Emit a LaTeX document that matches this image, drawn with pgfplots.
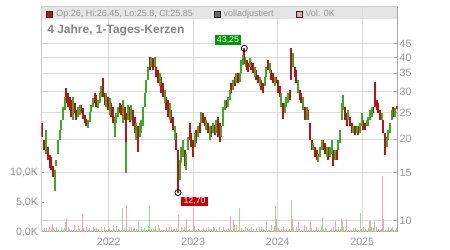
\documentclass[border=0pt]{standalone}
\usepackage{pgfplots}
\pgfplotsset{compat=1.18}
\usepackage{fontspec}
\setmainfont{Liberation Sans}
\definecolor{cred}{RGB}{185,20,20}
\definecolor{cgreen}{RGB}{60,170,35}
\definecolor{vpink}{RGB}{240,165,172}
\definecolor{vgreen}{RGB}{160,215,150}
\definecolor{gridgray}{RGB}{220,220,220}
\definecolor{framegray}{RGB}{205,205,205}
\definecolor{axisgray}{RGB}{165,165,165}
\definecolor{labelgray}{RGB}{150,150,150}
\definecolor{titlegray}{RGB}{135,135,135}
\definecolor{bandgray}{RGB}{229,229,229}
\definecolor{boxgreen}{RGB}{0,153,0}
\definecolor{boxred}{RGB}{204,0,0}
\pgfplotsset{
  chartgeom/.style={at={(30.975pt,13.5pt)}, anchor=south west,
    scale only axis, width=267.3pt, height=168.75pt,
    xmin=2021.2023, xmax=2025.4200},
}
\begin{document}
\begin{tikzpicture}
\path[use as bounding box, fill=white] (0,0) rectangle (337.5pt,187.5pt);
\fill[bandgray] (30.975pt,173.25pt) rectangle (298.275pt,182.25pt);
% ---------- grid / frame / price labels ----------
\begin{axis}[chartgeom,
  ymode=log, ymin=9.085, ymax=61.46,
  axis x line*=bottom, axis y line*=right,
  axis line style={draw=axisgray, line width=0.75pt},
  xtick={2022,2023,2024,2025}, xticklabels={2022,2023,2024,2025},
  ytick={10,15,20,25,30,35,40,45}, yticklabels={10,15,20,25,30,35,40,45},
  yminorticks=false, xminorticks=false,
  grid=major, major grid style={draw=gridgray, line width=0.75pt},
  xtick style={draw=none},
  ytick style={draw=axisgray, line width=0.75pt},
  tick align=inside, major tick length=3pt,
  tick label style={font=\fontsize{8}{9}\selectfont, text=labelgray, inner sep=0pt},
  xticklabel style={yshift=-4pt},
  yticklabel style={xshift=1.3pt},
  /pgf/number format/assume math mode=true,
]
\draw[framegray, line width=0.75pt] (rel axis cs:0,0) -- (rel axis cs:0,1) -- (rel axis cs:1,1);
\end{axis}
% ---------- volume ----------
\begin{axis}[chartgeom,
  ymin=0, ymax=37.69,
  axis x line=none, axis y line*=left,
  axis line style={draw=framegray, line width=0.75pt},
  ytick={0,5,10}, yticklabels={{0,0K},{5,0K},{10,0K}},
  ytick style={draw=axisgray, line width=0.75pt},
  tick align=inside, major tick length=2pt,
  tick label style={font=\fontsize{8}{9}\selectfont, text=labelgray, inner sep=0pt},
  yticklabel style={xshift=-2.25pt},
  /pgf/number format/assume math mode=true,
]
\addplot[ycomb, vpink, line width=0.6pt, mark=none] coordinates {
(2021.210,0.4)(2021.234,0.7)(2021.282,0.3)(2021.302,0.9)(2021.321,0.5)(2021.341,0.6)
(2021.498,0.2)(2021.518,0.8)(2021.538,0.5)(2021.557,0.3)(2021.598,1.1)(2021.617,0.4)
(2021.676,0.4)(2021.696,0.7)(2021.716,0.3)(2021.735,0.9)(2021.834,0.5)(2021.853,0.6)
(2021.933,0.2)(2021.953,0.8)(2021.992,0.5)(2022.031,0.3)(2022.051,1.1)(2022.130,0.4)
(2022.149,0.4)(2022.189,0.7)(2022.206,0.3)(2022.248,0.9)(2022.288,0.5)(2022.308,0.6)
(2022.347,0.2)(2022.485,0.8)(2022.524,0.5)(2022.563,0.3)(2022.583,1.1)(2022.623,0.4)
(2022.643,0.4)(2022.682,0.7)(2022.702,0.3)(2022.741,0.9)(2022.761,0.5)(2022.800,0.6)
(2022.820,0.2)(2022.899,0.8)(2022.958,0.5)(2022.978,0.3)(2022.998,1.1)(2023.037,0.4)
(2023.077,0.4)(2023.116,0.7)(2023.136,0.3)(2023.175,0.9)(2023.214,0.5)(2023.254,0.6)
(2023.293,0.2)(2023.314,0.8)(2023.392,0.5)(2023.451,0.3)(2023.491,1.1)(2023.530,0.4)
(2023.604,0.4)(2023.637,0.7)(2023.652,0.3)(2023.688,0.9)(2023.708,0.5)(2023.747,0.6)
(2023.767,0.2)(2023.806,0.8)(2023.826,0.5)(2023.885,0.3)(2023.924,1.1)(2023.944,0.4)
(2023.983,0.4)(2024.004,0.7)(2024.024,0.3)(2024.063,0.9)(2024.142,0.5)(2024.161,0.6)
(2024.201,0.2)(2024.220,0.8)(2024.260,0.5)(2024.279,0.3)(2024.319,1.1)(2024.362,0.4)
(2024.382,0.4)(2024.402,0.7)(2024.441,0.3)(2024.461,0.9)(2024.540,0.5)(2024.560,0.6)
(2024.599,0.2)(2024.658,0.8)(2024.698,0.5)(2024.796,0.3)(2024.817,1.1)(2024.856,0.4)
(2024.876,0.4)(2024.915,0.7)(2024.954,0.3)(2025.013,0.9)(2025.033,0.5)(2025.131,0.6)
(2025.151,0.2)(2025.172,0.8)(2025.190,0.5)(2025.211,0.3)(2025.250,1.1)(2025.270,0.4)
(2025.368,0.4)(2025.408,0.7)
(2021.329,1.3)(2021.503,2.1)(2021.688,3.0)(2022.205,4.5)(2022.824,2.9)(2022.923,2.1)
(2023.001,4.0)(2023.436,2.6)(2023.475,2.0)(2023.506,1.2)(2023.980,2.1)(2024.178,2.1)
(2024.244,1.7)(2024.384,1.9)(2024.678,1.8)(2024.759,2.1)(2024.816,2.2)(2025.101,1.8)
(2025.243,9.3)(2025.256,2.1)
};
\addplot[ycomb, vgreen, line width=0.6pt, mark=none] coordinates {
(2021.262,0.6)(2021.361,0.3)(2021.380,0.8)(2021.400,0.5)(2021.420,0.2)(2021.439,0.9)
(2021.459,0.4)(2021.479,0.7)(2021.578,0.3)(2021.637,1.0)(2021.657,0.5)(2021.755,0.4)
(2021.775,0.6)(2021.794,0.3)(2021.814,0.8)(2021.873,0.5)(2021.893,0.2)(2021.912,0.9)
(2021.972,0.4)(2022.012,0.7)(2022.071,0.3)(2022.090,1.0)(2022.110,0.5)(2022.169,0.4)
(2022.210,0.6)(2022.228,0.3)(2022.267,0.8)(2022.327,0.5)(2022.367,0.2)(2022.386,0.9)
(2022.406,0.4)(2022.426,0.7)(2022.445,0.3)(2022.465,1.0)(2022.504,0.5)(2022.544,0.4)
(2022.604,0.6)(2022.663,0.3)(2022.722,0.8)(2022.781,0.5)(2022.840,0.2)(2022.859,0.9)
(2022.879,0.4)(2022.918,0.7)(2022.938,0.3)(2023.018,1.0)(2023.057,0.5)(2023.096,0.4)
(2023.155,0.6)(2023.195,0.3)(2023.234,0.8)(2023.273,0.5)(2023.333,0.2)(2023.353,0.9)
(2023.373,0.4)(2023.412,0.7)(2023.432,0.3)(2023.471,1.0)(2023.510,0.5)(2023.550,0.4)
(2023.569,0.6)(2023.589,0.3)(2023.619,0.8)(2023.669,0.5)(2023.728,0.2)(2023.787,0.9)
(2023.846,0.4)(2023.865,0.7)(2023.905,0.3)(2023.964,1.0)(2024.043,0.5)(2024.083,0.4)
(2024.102,0.6)(2024.122,0.3)(2024.181,0.8)(2024.240,0.5)(2024.299,0.2)(2024.343,0.9)
(2024.421,0.4)(2024.480,0.7)(2024.500,0.3)(2024.521,1.0)(2024.580,0.5)(2024.619,0.4)
(2024.639,0.6)(2024.678,0.3)(2024.717,0.8)(2024.737,0.5)(2024.757,0.2)(2024.776,0.9)
(2024.835,0.4)(2024.895,0.7)(2024.935,0.3)(2024.974,1.0)(2024.994,0.5)(2025.053,0.4)
(2025.072,0.6)(2025.092,0.3)(2025.112,0.8)(2025.231,0.5)(2025.290,0.2)(2025.309,0.9)
(2025.329,0.4)(2025.349,0.7)(2025.388,0.3)
(2021.483,1.7)(2022.161,4.0)(2022.350,1.8)(2022.480,4.6)(2022.548,1.0)(2023.542,4.1)
(2023.861,1.8)(2023.968,4.3)(2024.157,5.3)(2024.523,2.4)(2024.769,1.9)(2024.976,3.2)
(2025.084,1.8)(2025.140,1.8)(2025.356,0.9)
};
\end{axis}
% ---------- candles ----------
\begin{axis}[chartgeom, hide axis,
  ymode=log, ymin=9.085, ymax=61.46,
  unbounded coords=jump,
]
\addplot[cred, line width=1.45pt, mark=none] coordinates {
(2021.210,20.4)(2021.210,22.9)(2021.210,nan)
(2021.234,18.2)(2021.234,19.9)(2021.234,nan)
(2021.282,16.7)(2021.282,18.7)(2021.282,nan)
(2021.302,15.6)(2021.302,17.5)(2021.302,nan)
(2021.321,15.4)(2021.321,17.2)(2021.321,nan)
(2021.341,14.5)(2021.341,15.9)(2021.341,nan)
(2021.498,27.1)(2021.498,30.8)(2021.498,nan)
(2021.518,26.3)(2021.518,29.5)(2021.518,nan)
(2021.538,25.6)(2021.538,28.7)(2021.538,nan)
(2021.557,24.2)(2021.557,27.9)(2021.557,nan)
(2021.598,24.9)(2021.598,27.1)(2021.598,nan)
(2021.617,23.5)(2021.617,25.6)(2021.617,nan)
(2021.676,24.9)(2021.676,26.7)(2021.676,nan)
(2021.696,23.8)(2021.696,26.0)(2021.696,nan)
(2021.716,22.9)(2021.716,24.5)(2021.716,nan)
(2021.735,22.3)(2021.735,23.8)(2021.735,nan)
(2021.834,27.1)(2021.834,29.5)(2021.834,nan)
(2021.853,26.3)(2021.853,29.1)(2021.853,nan)
(2021.933,28.7)(2021.933,33.5)(2021.933,nan)
(2021.953,26.7)(2021.953,29.5)(2021.953,nan)
(2021.992,25.6)(2021.992,28.7)(2021.992,nan)
(2022.031,24.2)(2022.031,27.1)(2022.031,nan)
(2022.051,22.9)(2022.051,26.3)(2022.051,nan)
(2022.130,24.9)(2022.130,27.1)(2022.130,nan)
(2022.149,24.5)(2022.149,26.7)(2022.149,nan)
(2022.189,23.5)(2022.189,26.3)(2022.189,nan)
(2022.206,19.5)(2022.206,24.9)(2022.206,nan)
(2022.248,23.2)(2022.248,26.3)(2022.248,nan)
(2022.288,22.3)(2022.288,25.6)(2022.288,nan)
(2022.308,21.0)(2022.308,24.2)(2022.308,nan)
(2022.347,18.0)(2022.347,22.3)(2022.347,nan)
(2022.485,36.0)(2022.485,40.3)(2022.485,nan)
(2022.524,36.0)(2022.524,39.8)(2022.524,nan)
(2022.563,34.0)(2022.563,37.0)(2022.563,nan)
(2022.583,32.1)(2022.583,36.0)(2022.583,nan)
(2022.623,29.5)(2022.623,34.0)(2022.623,nan)
(2022.643,28.7)(2022.643,32.1)(2022.643,nan)
(2022.682,25.6)(2022.682,28.7)(2022.682,nan)
(2022.702,24.2)(2022.702,27.9)(2022.702,nan)
(2022.741,22.9)(2022.741,25.6)(2022.741,nan)
(2022.761,21.6)(2022.761,24.2)(2022.761,nan)
(2022.800,18.2)(2022.800,21.0)(2022.800,nan)
(2022.820,12.7)(2022.820,18.2)(2022.820,nan)
(2022.899,15.9)(2022.899,18.2)(2022.899,nan)
(2022.958,19.9)(2022.958,22.9)(2022.958,nan)
(2022.978,18.7)(2022.978,21.0)(2022.978,nan)
(2022.998,17.2)(2022.998,19.9)(2022.998,nan)
(2023.037,19.3)(2023.037,21.6)(2023.037,nan)
(2023.077,21.0)(2023.077,22.9)(2023.077,nan)
(2023.116,22.9)(2023.116,24.9)(2023.116,nan)
(2023.136,22.3)(2023.136,24.2)(2023.136,nan)
(2023.175,21.0)(2023.175,22.9)(2023.175,nan)
(2023.214,20.4)(2023.214,22.3)(2023.214,nan)
(2023.254,20.7)(2023.254,22.6)(2023.254,nan)
(2023.293,20.4)(2023.293,24.2)(2023.293,nan)
(2023.314,19.6)(2023.314,22.9)(2023.314,nan)
(2023.392,26.0)(2023.392,27.9)(2023.392,nan)
(2023.451,29.5)(2023.451,32.1)(2023.451,nan)
(2023.491,31.3)(2023.491,34.0)(2023.491,nan)
(2023.530,32.1)(2023.530,35.0)(2023.530,nan)
(2023.604,38.0)(2023.604,43.25)(2023.604,nan)
(2023.637,36.0)(2023.637,39.2)(2023.637,nan)
(2023.652,35.5)(2023.652,38.1)(2023.652,nan)
(2023.688,36.0)(2023.688,38.6)(2023.688,nan)
(2023.708,35.0)(2023.708,38.1)(2023.708,nan)
(2023.747,33.0)(2023.747,36.0)(2023.747,nan)
(2023.767,32.1)(2023.767,34.5)(2023.767,nan)
(2023.806,30.4)(2023.806,33.0)(2023.806,nan)
(2023.826,29.5)(2023.826,32.1)(2023.826,nan)
(2023.885,36.0)(2023.885,39.2)(2023.885,nan)
(2023.924,33.0)(2023.924,36.0)(2023.924,nan)
(2023.944,32.1)(2023.944,35.0)(2023.944,nan)
(2023.983,32.1)(2023.983,34.0)(2023.983,nan)
(2024.004,29.5)(2024.004,33.0)(2024.004,nan)
(2024.024,28.7)(2024.024,31.3)(2024.024,nan)
(2024.063,23.8)(2024.063,27.1)(2024.063,nan)
(2024.142,27.9)(2024.142,30.4)(2024.142,nan)
(2024.161,33.0)(2024.161,43.3)(2024.161,nan)
(2024.201,34.0)(2024.201,37.0)(2024.201,nan)
(2024.220,32.1)(2024.220,36.0)(2024.220,nan)
(2024.260,27.9)(2024.260,30.4)(2024.260,nan)
(2024.279,27.1)(2024.279,29.5)(2024.279,nan)
(2024.319,23.5)(2024.319,26.3)(2024.319,nan)
(2024.362,23.5)(2024.362,25.6)(2024.362,nan)
(2024.382,19.9)(2024.382,22.9)(2024.382,nan)
(2024.402,18.2)(2024.402,19.9)(2024.402,nan)
(2024.441,17.2)(2024.441,18.7)(2024.441,nan)
(2024.461,16.7)(2024.461,18.2)(2024.461,nan)
(2024.540,18.2)(2024.540,19.9)(2024.540,nan)
(2024.560,17.7)(2024.560,19.3)(2024.560,nan)
(2024.599,16.7)(2024.599,18.7)(2024.599,nan)
(2024.658,15.9)(2024.658,18.2)(2024.658,nan)
(2024.698,16.7)(2024.698,18.2)(2024.698,nan)
(2024.796,23.5)(2024.796,26.3)(2024.796,nan)
(2024.817,22.3)(2024.817,24.9)(2024.817,nan)
(2024.856,22.3)(2024.856,24.2)(2024.856,nan)
(2024.876,21.0)(2024.876,22.9)(2024.876,nan)
(2024.915,20.7)(2024.915,22.3)(2024.915,nan)
(2024.954,20.7)(2024.954,22.3)(2024.954,nan)
(2025.013,21.6)(2025.013,23.5)(2025.013,nan)
(2025.033,21.6)(2025.033,22.9)(2025.033,nan)
(2025.131,24.9)(2025.131,26.3)(2025.131,nan)
(2025.151,26.3)(2025.151,32.6)(2025.151,nan)
(2025.172,25.6)(2025.172,27.9)(2025.172,nan)
(2025.190,24.9)(2025.190,27.1)(2025.190,nan)
(2025.211,23.5)(2025.211,25.6)(2025.211,nan)
(2025.250,21.0)(2025.250,23.5)(2025.250,nan)
(2025.270,17.5)(2025.270,21.0)(2025.270,nan)
(2025.368,24.2)(2025.368,26.3)(2025.368,nan)
(2025.408,25.8)(2025.408,26.45)(2025.408,nan)
};
\addplot[cgreen, line width=1.45pt, mark=none] coordinates {
(2021.262,17.7)(2021.262,21.6)(2021.262,nan)
(2021.361,12.9)(2021.361,15.4)(2021.361,nan)
(2021.380,15.9)(2021.380,16.7)(2021.380,nan)
(2021.400,17.7)(2021.400,19.9)(2021.400,nan)
(2021.420,19.9)(2021.420,21.6)(2021.420,nan)
(2021.439,21.6)(2021.439,23.5)(2021.439,nan)
(2021.459,23.5)(2021.459,26.3)(2021.459,nan)
(2021.479,25.6)(2021.479,28.7)(2021.479,nan)
(2021.578,23.5)(2021.578,28.7)(2021.578,nan)
(2021.637,24.2)(2021.637,26.3)(2021.637,nan)
(2021.657,24.5)(2021.657,26.7)(2021.657,nan)
(2021.755,21.9)(2021.755,23.5)(2021.755,nan)
(2021.775,23.2)(2021.775,25.2)(2021.775,nan)
(2021.794,25.2)(2021.794,26.7)(2021.794,nan)
(2021.814,26.3)(2021.814,28.3)(2021.814,nan)
(2021.873,26.0)(2021.873,27.9)(2021.873,nan)
(2021.893,27.1)(2021.893,29.5)(2021.893,nan)
(2021.912,28.7)(2021.912,31.3)(2021.912,nan)
(2021.972,26.3)(2021.972,29.5)(2021.972,nan)
(2022.012,24.5)(2022.012,28.3)(2022.012,nan)
(2022.071,20.4)(2022.071,24.2)(2022.071,nan)
(2022.090,22.9)(2022.090,24.9)(2022.090,nan)
(2022.110,24.2)(2022.110,26.3)(2022.110,nan)
(2022.169,22.9)(2022.169,27.9)(2022.169,nan)
(2022.210,15.0)(2022.210,19.5)(2022.210,nan)
(2022.228,23.5)(2022.228,26.7)(2022.228,nan)
(2022.267,23.5)(2022.267,26.7)(2022.267,nan)
(2022.327,19.9)(2022.327,22.9)(2022.327,nan)
(2022.367,20.4)(2022.367,22.9)(2022.367,nan)
(2022.386,21.0)(2022.386,23.5)(2022.386,nan)
(2022.406,22.3)(2022.406,26.3)(2022.406,nan)
(2022.426,26.3)(2022.426,29.5)(2022.426,nan)
(2022.445,29.5)(2022.445,33.0)(2022.445,nan)
(2022.465,33.0)(2022.465,37.0)(2022.465,nan)
(2022.504,37.0)(2022.504,40.3)(2022.504,nan)
(2022.544,37.0)(2022.544,40.3)(2022.544,nan)
(2022.604,31.3)(2022.604,35.0)(2022.604,nan)
(2022.663,27.1)(2022.663,30.4)(2022.663,nan)
(2022.722,23.5)(2022.722,27.1)(2022.722,nan)
(2022.781,19.9)(2022.781,22.3)(2022.781,nan)
(2022.840,14.1)(2022.840,16.7)(2022.840,nan)
(2022.859,16.3)(2022.859,18.7)(2022.859,nan)
(2022.879,17.2)(2022.879,19.9)(2022.879,nan)
(2022.918,15.4)(2022.918,17.7)(2022.918,nan)
(2022.938,18.2)(2022.938,20.4)(2022.938,nan)
(2023.018,18.7)(2023.018,21.0)(2023.018,nan)
(2023.057,20.4)(2023.057,22.3)(2023.057,nan)
(2023.096,22.9)(2023.096,25.2)(2023.096,nan)
(2023.155,21.6)(2023.155,23.5)(2023.155,nan)
(2023.195,19.9)(2023.195,22.3)(2023.195,nan)
(2023.234,21.0)(2023.234,22.9)(2023.234,nan)
(2023.273,21.0)(2023.273,23.5)(2023.273,nan)
(2023.333,20.4)(2023.333,22.3)(2023.333,nan)
(2023.353,22.3)(2023.353,26.3)(2023.353,nan)
(2023.373,25.6)(2023.373,27.9)(2023.373,nan)
(2023.412,26.3)(2023.412,28.7)(2023.412,nan)
(2023.432,27.9)(2023.432,30.4)(2023.432,nan)
(2023.471,30.4)(2023.471,33.0)(2023.471,nan)
(2023.510,32.1)(2023.510,35.0)(2023.510,nan)
(2023.550,32.6)(2023.550,35.0)(2023.550,nan)
(2023.569,35.0)(2023.569,39.2)(2023.569,nan)
(2023.589,37.5)(2023.589,41.0)(2023.589,nan)
(2023.619,37.0)(2023.619,40.3)(2023.619,nan)
(2023.669,37.0)(2023.669,39.8)(2023.669,nan)
(2023.728,34.0)(2023.728,37.0)(2023.728,nan)
(2023.787,31.3)(2023.787,34.0)(2023.787,nan)
(2023.846,31.3)(2023.846,34.0)(2023.846,nan)
(2023.865,34.0)(2023.865,37.0)(2023.865,nan)
(2023.905,35.0)(2023.905,38.1)(2023.905,nan)
(2023.964,31.3)(2023.964,34.0)(2023.964,nan)
(2024.043,26.3)(2024.043,29.5)(2024.043,nan)
(2024.083,24.9)(2024.083,27.1)(2024.083,nan)
(2024.102,26.3)(2024.102,28.7)(2024.102,nan)
(2024.122,27.1)(2024.122,29.5)(2024.122,nan)
(2024.181,37.0)(2024.181,41.5)(2024.181,nan)
(2024.240,29.5)(2024.240,33.0)(2024.240,nan)
(2024.299,25.6)(2024.299,28.7)(2024.299,nan)
(2024.343,23.5)(2024.343,26.3)(2024.343,nan)
(2024.421,18.2)(2024.421,19.3)(2024.421,nan)
(2024.480,16.5)(2024.480,17.7)(2024.480,nan)
(2024.500,17.2)(2024.500,18.7)(2024.500,nan)
(2024.521,18.2)(2024.521,19.9)(2024.521,nan)
(2024.580,17.2)(2024.580,18.7)(2024.580,nan)
(2024.619,17.2)(2024.619,18.7)(2024.619,nan)
(2024.639,17.7)(2024.639,19.9)(2024.639,nan)
(2024.678,16.7)(2024.678,18.2)(2024.678,nan)
(2024.717,18.2)(2024.717,19.9)(2024.717,nan)
(2024.737,19.3)(2024.737,21.6)(2024.737,nan)
(2024.757,23.5)(2024.757,27.1)(2024.757,nan)
(2024.776,25.6)(2024.776,29.1)(2024.776,nan)
(2024.835,23.5)(2024.835,25.6)(2024.835,nan)
(2024.895,21.0)(2024.895,22.3)(2024.895,nan)
(2024.935,21.0)(2024.935,22.3)(2024.935,nan)
(2024.974,21.0)(2024.974,22.9)(2024.974,nan)
(2024.994,22.3)(2024.994,24.9)(2024.994,nan)
(2025.053,22.3)(2025.053,23.5)(2025.053,nan)
(2025.072,22.3)(2025.072,24.2)(2025.072,nan)
(2025.092,23.5)(2025.092,25.6)(2025.092,nan)
(2025.112,24.2)(2025.112,26.3)(2025.112,nan)
(2025.231,23.5)(2025.231,24.9)(2025.231,nan)
(2025.290,18.7)(2025.290,20.4)(2025.290,nan)
(2025.309,19.9)(2025.309,21.6)(2025.309,nan)
(2025.329,21.0)(2025.329,22.9)(2025.329,nan)
(2025.349,23.5)(2025.349,25.6)(2025.349,nan)
(2025.388,24.2)(2025.388,26.0)(2025.388,nan)
};
\addplot[only marks, mark=o, mark size=2.3pt, black, line width=0.6pt] coordinates {(2023.604,43.25) (2022.820,12.70)};
\end{axis}
% ---------- top frame, title, legend, annotations ----------
\draw[framegray, line width=0.75pt] (30.975pt,182.25pt) -- (298.275pt,182.25pt);
\node[anchor=base west, inner sep=0pt, font=\fontsize{9}{10}\selectfont\bfseries, text=titlegray] at (35.25pt,162pt) {4 Jahre, 1-Tages-Kerzen};
\filldraw[fill=cred, draw=black!85, line width=0.5pt] (34.6pt,174.2pt) rectangle (39.4pt,179pt);
\node[anchor=base west, inner sep=0pt, font=\fontsize{6.75}{8}\selectfont, text=labelgray] at (42pt,175pt) {Op:26, Hi:26.45, Lo:25.8, Cl:25.85};
\filldraw[fill=black!60, draw=black!85, line width=0.5pt] (160.6pt,174.2pt) rectangle (165.4pt,179pt);
\node[anchor=base west, inner sep=0pt, font=\fontsize{6.75}{8}\selectfont, text=labelgray] at (167.6pt,175pt) {volladjustiert};
\filldraw[fill=vpink, draw=black!85, line width=0.5pt] (222pt,174.2pt) rectangle (226.8pt,179pt);
\node[anchor=base west, inner sep=0pt, font=\fontsize{6.75}{8}\selectfont, text=labelgray] at (228.9pt,175pt) {Vol: 0K};
\node[fill=boxgreen, text=white, inner sep=0pt, minimum width=19.5pt, minimum height=7.5pt, font=\fontsize{6.6}{7}\selectfont] at (171pt,157.5pt) {43,25};
\node[fill=boxred, text=white, inner sep=0pt, minimum width=20.2pt, minimum height=7pt, font=\fontsize{6.6}{7}\selectfont] at (145.9pt,36.4pt) {12,70};
\end{tikzpicture}
\end{document}
